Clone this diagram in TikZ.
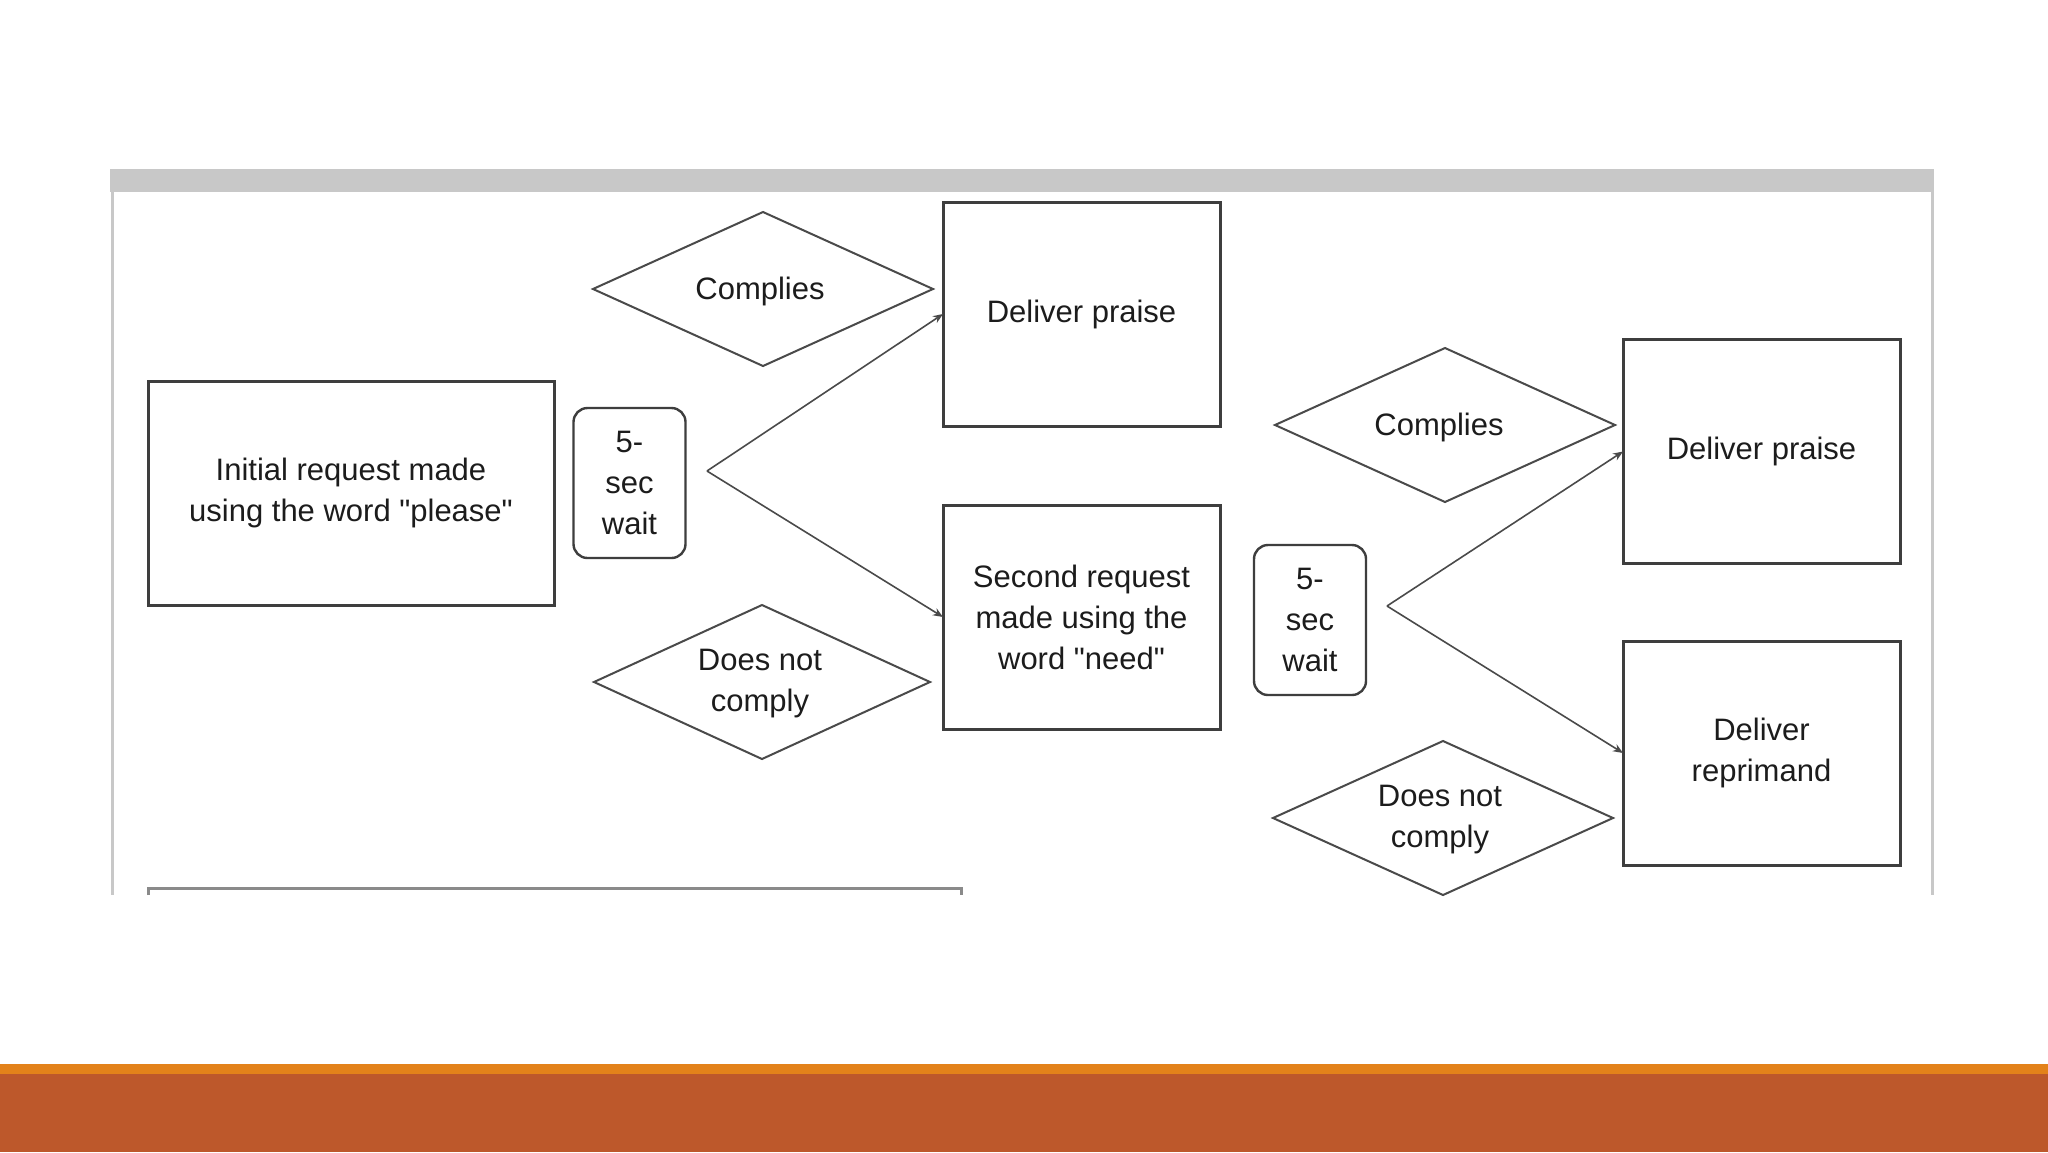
\documentclass[tikz,border=0pt]{standalone}
\usepackage{fontspec}
\setmainfont{Liberation Sans}[Ligatures=TeXOff]
\usetikzlibrary{arrows.meta}
\definecolor{barGray}{HTML}{C8C8C8}
\definecolor{boxLine}{HTML}{3E3E3E}
\definecolor{diaLine}{HTML}{4A4A4A}
\definecolor{txt}{HTML}{1C1C1C}
\definecolor{fragLine}{HTML}{8A8A8A}
\definecolor{bandOrange}{HTML}{E3821A}
\definecolor{bandRust}{HTML}{BD582B}
\tikzset{
  lbl/.style={text=txt, align=center, font=\fontsize{15.5}{20.5}\selectfont, inner sep=0pt},
  rectbox/.style={lbl, draw=boxLine, line width=1.5pt, minimum width=138.5pt, minimum height=112pt, outer sep=0pt},
  waitbox/.style={lbl, draw=boxLine, line width=1.2pt, rounded corners=7pt, minimum width=56pt, minimum height=75pt, outer sep=0pt},
  diam/.style={draw=diaLine, line width=1pt, line join=miter},
  conn/.style={draw=diaLine, line width=0.8pt, -{Stealth[length=5pt,width=4pt]}}
}
\begin{document}
\begin{tikzpicture}[x=0.5pt,y=-0.5pt]
\useasboundingbox (0,0) rectangle (2048,1152);
\fill[white] (0,0) rectangle (2048,1152);
% frame of the embedded picture
\fill[barGray] (110,169) rectangle (1934,192);
\draw[barGray, line width=1.5pt] (112,192) -- (112,895);
\draw[barGray, line width=1.5pt] (1932,192) -- (1932,895);
\draw[fragLine, line width=1.5pt] (148,895) -- (148,888) -- (961,888) -- (961,895);
% bottom bands
\fill[bandOrange] (0,1064) rectangle (2048,1075);
\fill[bandRust] (0,1074) rectangle (2048,1152);

% boxes
\node[rectbox, minimum width=203pt] (init) at (351,493) {Initial request made\\using the word "please"};
\node[waitbox] (wait1) at (629.5,483) {5-\\sec\\wait};
\node[rectbox] (praise1) at (1081.5,314) {Deliver praise};
\node[rectbox] (second) at (1081.5,617) {Second request\\made using the\\word "need"};
\node[waitbox] (wait2) at (1310,620) {5-\\sec\\wait};
\node[rectbox] (praise2) at (1761.5,451.5) {Deliver praise};
\node[rectbox] (repr) at (1761.5,753) {Deliver\\reprimand};

% diamonds
\node[lbl] (comp1) at (760,291) {Complies};
\draw[diam] (763,289) +(-170,0) -- +(0,77) -- +(170,0) -- +(0,-77) -- cycle;
\node[lbl] (dnc1) at (760,684) {Does not\\comply};
\draw[diam] (762,682) +(-168,0) -- +(0,77) -- +(168,0) -- +(0,-77) -- cycle;
\node[lbl] (comp2) at (1439,427) {Complies};
\draw[diam] (1445,425) +(-170,0) -- +(0,77) -- +(170,0) -- +(0,-77) -- cycle;
\node[lbl] (dnc2) at (1440,820) {Does not\\comply};
\draw[diam] (1443,818) +(-170,0) -- +(0,77) -- +(170,0) -- +(0,-77) -- cycle;

% connectors
\coordinate (b1) at (707,471);
\coordinate (b2) at (1387,606);
\draw[conn] (b1) -- (praise1.west);
\draw[conn] (b1) -- (second.west);
\draw[conn] (b2) -- (praise2.west);
\draw[conn] (b2) -- (repr.west);
\end{tikzpicture}
\end{document}
